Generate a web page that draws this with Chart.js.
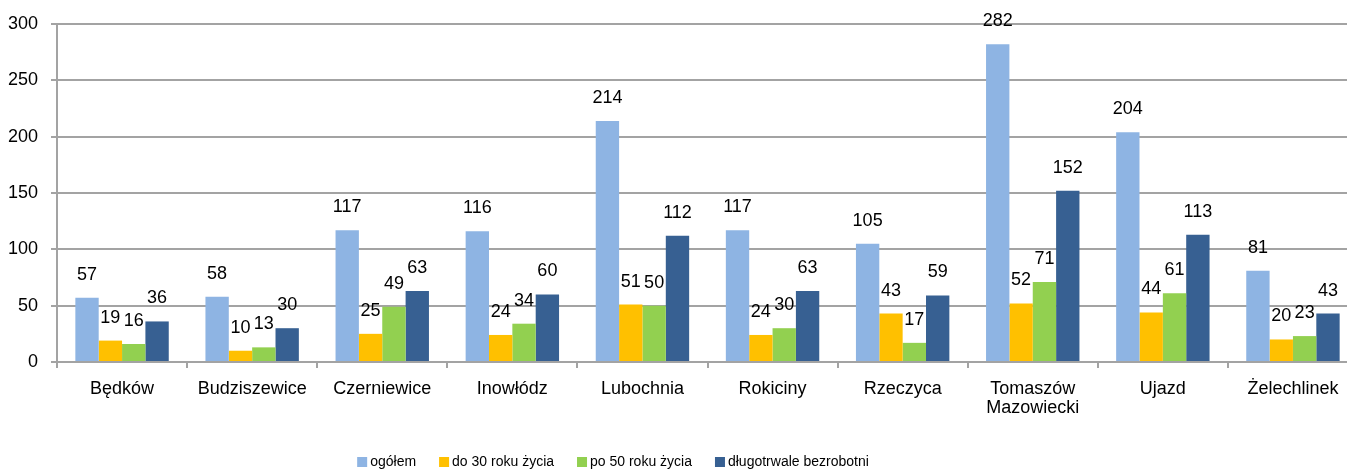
<!DOCTYPE html>
<html>
<head>
<meta charset="utf-8">
<script src="https://cdn.jsdelivr.net/npm/chart.js@4/dist/chart.umd.min.js"></script>
<style>
  html, body { margin: 0; padding: 0; background: #fff; overflow: hidden; }
  #wrap { position: relative; width: 1362px; height: 469px; }
</style>
</head>
<body>
<div id="wrap"><canvas id="c"></canvas></div>
<script>
const categories = ['Będków', 'Budziszewice', 'Czerniewice', 'Inowłódz', 'Lubochnia', 'Rokiciny', 'Rzeczyca', ['Tomaszów', 'Mazowiecki'], 'Ujazd', 'Żelechlinek'];
const seriesNames = ['ogółem', 'do 30 roku życia', 'po 50 roku życia', 'długotrwale bezrobotni'];
const ogolem      = [57, 58, 117, 116, 214, 117, 105, 282, 204, 81];
const do30        = [19, 10, 25, 24, 51, 24, 43, 52, 44, 20];
const po50        = [16, 13, 49, 34, 50, 30, 17, 71, 61, 23];
const dlugotrwale = [36, 30, 63, 60, 112, 63, 59, 152, 113, 43];
const yTicks = [0, 50, 100, 150, 200, 250, 300];
const colors = ['#8EB4E3', '#FFC000', '#92D050', '#376092'];

const FONT = "'Liberation Sans', Arial, sans-serif";
const GRID = '#A3A3A3';

const valueLabels = {
  id: 'valueLabels',
  afterDatasetsDraw(chart) {
    const ctx = chart.ctx;
    ctx.save();
    ctx.font = '18px ' + FONT;
    ctx.fillStyle = '#000';
    ctx.textAlign = 'center';
    ctx.textBaseline = 'middle';
    chart.data.datasets.forEach((ds, i) => {
      chart.getDatasetMeta(i).data.forEach((bar, j) => {
        ctx.fillText(String(ds.data[j]), bar.x, bar.y - 23);
      });
    });
    ctx.restore();
  }
};

const bottomLegend = {
  id: 'bottomLegend',
  afterDraw(chart) {
    const ctx = chart.ctx;
    ctx.save();
    ctx.font = '14px ' + FONT;
    ctx.textBaseline = 'middle';
    ctx.textAlign = 'left';
    const box = 10, gapText = 3, gapItem = 23, centerX = 613, y = 462;
    const items = chart.data.datasets.map(ds => ({ label: ds.label, color: ds.backgroundColor, w: ctx.measureText(ds.label).width }));
    let total = 0;
    items.forEach((it, k) => { total += box + gapText + it.w + (k < items.length - 1 ? gapItem : 0); });
    let x = centerX - total / 2;
    items.forEach(it => {
      ctx.fillStyle = it.color;
      ctx.fillRect(x, y - box / 2, box, box);
      ctx.fillStyle = '#000';
      ctx.fillText(it.label, x + box + gapText, y);
      x += box + gapText + it.w + gapItem;
    });
    ctx.restore();
  }
};

const datasets = [ogolem, do30, po50, dlugotrwale].map((d, i) => ({
  label: seriesNames[i],
  data: d,
  backgroundColor: colors[i],
  borderWidth: 0,
  categoryPercentage: 0.718,
  barPercentage: 1.0
}));

new Chart(document.getElementById('c'), {
  type: 'bar',
  data: { labels: categories, datasets },
  plugins: [valueLabels, bottomLegend],
  options: {
    responsive: true,
    maintainAspectRatio: false,
    animation: false,
    layout: { padding: { top: 24, right: 4, left: 0, bottom: 0 } },
    plugins: { legend: { display: false }, tooltip: { enabled: false } },
    scales: {
      x: {
        grid: { offset: true, drawOnChartArea: false, drawTicks: true, tickLength: 6, color: GRID, lineWidth: 2 },
        border: { color: GRID, width: 2 },
        ticks: { color: '#000', font: { family: FONT, size: 18, lineHeight: 1.05 }, padding: 12, maxRotation: 0, autoSkip: false },
        afterFit(scale) { scale.height = 469 - 362; }
      },
      y: {
        min: 0, max: 300,
        afterBuildTicks(scale) { scale.ticks = yTicks.map(v => ({ value: v })); },
        grid: { color: GRID, lineWidth: 2, drawTicks: true, tickLength: 6 },
        border: { color: GRID, width: 2 },
        ticks: { color: '#000', font: { family: FONT, size: 18 }, padding: 13 },
        afterFit(scale) { scale.width = 57; }
      }
    }
  }
});
</script>
</body>
</html>
